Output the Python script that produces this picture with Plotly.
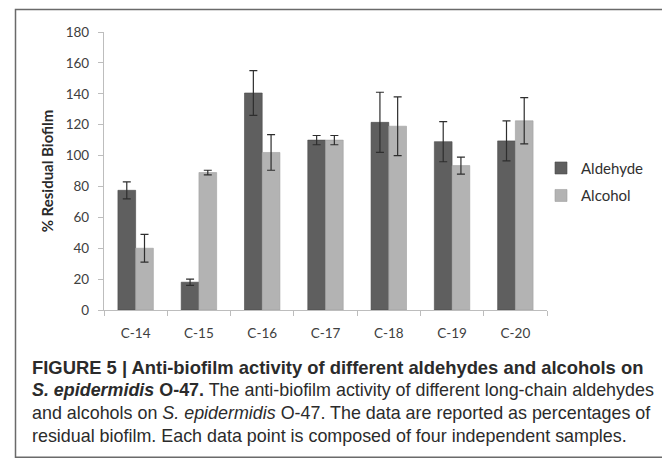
import plotly.graph_objects as go

categories = ["C-14", "C-15", "C-16", "C-17", "C-18", "C-19", "C-20"]
aldehyde = [77.5, 18, 140.5, 110, 121.5, 109, 109.5]
aldehyde_err = [5.5, 2, 14.5, 3, 19.5, 13, 13]
alcohol = [40, 89, 102, 110, 119, 93.5, 122.5]
alcohol_err = [9, 1.5, 11.5, 3, 19, 5.5, 15]
y_ticks = [0, 20, 40, 60, 80, 100, 120, 140, 160, 180]

W, H = 670, 474
OFF = 8  # page body margin of the browser
# plot area in screen pixels
SL, SR, ST, SB = 104, 547, 32, 310.5
PL, PR, PT, PB = SL - OFF, SR - OFF, ST - OFF, SB - OFF


def px(xs):
    return (xs - OFF - PL) / (PR - PL)


def py(ys):
    return (PB - (ys - OFF)) / (PB - PT)


fig = go.Figure()
fig.add_trace(go.Bar(
    x=categories, y=aldehyde, name="Aldehyde",
    marker=dict(color="#5f5f5f", line=dict(color="#4a4a4a", width=0.6)),
    error_y=dict(type="data", array=aldehyde_err, visible=True,
                 color="#2e2e2e", thickness=1.2, width=4),
    legendgroup="a",
))
fig.add_trace(go.Bar(
    x=categories, y=alcohol, name="Alcohol",
    marker=dict(color="#b3b3b3", line=dict(color="#a0a0a0", width=0.6)),
    error_y=dict(type="data", array=alcohol_err, visible=True,
                 color="#2e2e2e", thickness=1.2, width=4),
    legendgroup="b",
))

tick_font = dict(family="Lato", size=13.5, color="#404040")

fig.update_layout(
    width=W, height=H,
    margin=dict(l=PL, r=W - PR, t=PT, b=H - PB, autoexpand=False),
    paper_bgcolor="white", plot_bgcolor="white",
    barmode="group", bargap=0.44, bargroupgap=0,
    showlegend=True,
    legend=dict(
        x=px(541), y=py(182), xanchor="left", yanchor="middle",
        font=dict(family="Lato", size=15, color="#303030"),
        bgcolor="rgba(0,0,0,0)", tracegroupgap=5, traceorder="grouped",
        itemwidth=30,
    ),
    xaxis=dict(
        showline=True, linecolor="#bdbdbd", linewidth=1.2,
        ticks="outside", tickson="boundaries", ticklen=5, tickcolor="#bdbdbd",
        tickfont=tick_font, showgrid=False, zeroline=False,
        ticklabelstandoff=11,
    ),
    yaxis=dict(
        range=[0, 180], tickvals=y_ticks, showline=True, linecolor="#bdbdbd",
        linewidth=1.2, ticks="outside", ticklen=5, tickcolor="#bdbdbd",
        tickfont=tick_font, showgrid=False, zeroline=False,
        ticklabelstandoff=6,
        title=dict(text="<b>% Residual Biofilm</b>", standoff=8,
                   font=dict(family="Lato", size=15, color="#2a2a2a")),
    ),
)

# outer frame
fig.add_shape(type="rect", xref="paper", yref="paper",
              x0=px(15.5), x1=px(667), y0=py(9.5), y1=py(458),
              line=dict(color="#6a6a6a", width=1.5), fillcolor="rgba(0,0,0,0)",
              layer="below")

lines = [
    "<b>FIGURE 5 | Anti-biofilm activity of different aldehydes and alcohols on</b>",
    "<b><i>S. epidermidis</i> O-47.</b> The anti-biofilm activity of different long-chain aldehydes",
    "and alcohols on <i>S. epidermidis</i> O-47. The data are reported as percentages of",
    "residual biofilm. Each data point is composed of four independent samples.",
]
line_y = [368, 391, 414, 437]
line_size = [18.4, 17.9, 17.9, 17.9]
for t, yy, sz in zip(lines, line_y, line_size):
    fig.add_annotation(text=t, xref="paper", yref="paper", x=px(30), y=py(yy),
                       xanchor="left", yanchor="middle", showarrow=False,
                       font=dict(family="Liberation Sans", size=sz, color="#2b2b2b"))

fig.write_html("out.html")
